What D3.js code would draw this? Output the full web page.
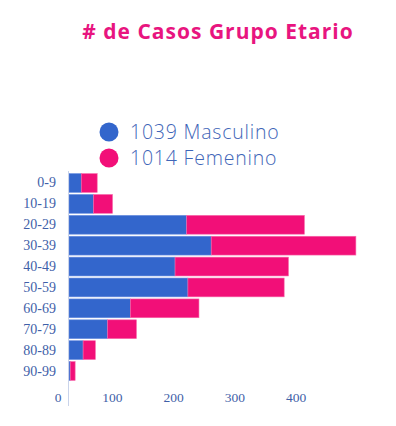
<!DOCTYPE html>
<html>
<head>
<meta charset="utf-8">
<title># de Casos Grupo Etario</title>
<script src="https://cdnjs.cloudflare.com/ajax/libs/d3/7.8.5/d3.min.js"></script>
<style>
  body { margin: 0; background: #fff; }
</style>
</head>
<body>
<div id="chart"></div>
<script>
// age groups and counts per sex
var groups = ["0-9", "10-19", "20-29", "30-39", "40-49", "50-59", "60-69", "70-79", "80-89", "90-99"];
var masculino = [20, 40, 192, 232, 173, 194, 100, 63, 23, 2];
var femenino = [26, 31, 192, 236, 185, 157, 112, 47, 20, 8];
var seriesNames = ["Masculino", "Femenino"];
var seriesColors = ["#3366cc", "#f20f78"];
var xTicks = [0, 100, 200, 300, 400];

var W = 396, H = 426;
var svg = d3.select("#chart").append("svg")
    .attr("width", W).attr("height", H);

// title
svg.append("text")
    .attr("x", 218).attr("y", 39)
    .attr("text-anchor", "middle")
    .style("font-family", "'Open Sans', sans-serif")
    .style("font-weight", 700)
    .style("font-size", "21px")
    .style("letter-spacing", "1px")
    .style("fill", "#e8157f")
    .text("# de Casos Grupo Etario");

// legend
var totals = [d3.sum(masculino), d3.sum(femenino)];
var legend = svg.selectAll(".leg").data(seriesNames).enter().append("g")
    .attr("transform", function(d, i) { return "translate(109," + (132 + i * 26) + ")"; });
legend.append("circle").attr("r", 9.5)
    .style("fill", function(d, i) { return seriesColors[i]; });
legend.append("text")
    .attr("x", 21).attr("y", 7)
    .style("font-family", "'Open Sans', sans-serif")
    .style("font-weight", 300)
    .style("font-size", "19.5px")
    .style("letter-spacing", "0.8px")
    .style("fill", "#3f66b8")
    .text(function(d, i) { return totals[i] + " " + d; });

// scales
var x = d3.scaleLinear().domain([0, 500]).range([69, 69 + 500 * 0.613]);
var y = d3.scaleBand().domain(groups).range([171.5, 382.5]).padding(0.1);

var rows = groups.map(function(g, i) {
    return { g: g, m: masculino[i], f: femenino[i] };
});

// masculino bars
svg.selectAll(".bm").data(rows).enter().append("rect")
    .attr("x", x(0))
    .attr("y", function(d) { return y(d.g); })
    .attr("width", function(d) { return x(d.m) - x(0); })
    .attr("height", y.bandwidth())
    .style("fill", seriesColors[0])
    .style("stroke", "#6a8ee0").style("stroke-width", 0.6);

// femenino bars stacked
svg.selectAll(".bf").data(rows).enter().append("rect")
    .attr("x", function(d) { return x(d.m); })
    .attr("y", function(d) { return y(d.g); })
    .attr("width", function(d) { return x(d.m + d.f) - x(d.m); })
    .attr("height", y.bandwidth())
    .style("fill", seriesColors[1])
    .style("stroke", "#f76aaa").style("stroke-width", 0.6);

// y axis line
svg.append("line")
    .attr("x1", x(0) - 0.5).attr("x2", x(0) - 0.5)
    .attr("y1", 171).attr("y2", 406)
    .style("stroke", "#c9d3ea").style("stroke-width", 1);

// y labels
svg.selectAll(".yl").data(groups).enter().append("text")
    .attr("x", 56)
    .attr("y", function(d) { return y(d) + y.bandwidth() / 2 + 4.5; })
    .attr("text-anchor", "end")
    .style("font-family", "'Liberation Serif', serif")
    .style("font-size", "14px")
    .style("fill", "#3f5fa8")
    .text(function(d) { return d; });

// x labels
svg.selectAll(".xl").data(xTicks).enter().append("text")
    .attr("x", function(d) { return x(d) + (d === 0 ? -11 : -18); })
    .attr("y", 402)
    .attr("text-anchor", "middle")
    .style("font-family", "'Liberation Serif', serif")
    .style("font-size", "13.5px")
    .style("fill", "#3f5fa8")
    .text(function(d) { return d; });
</script>
</body>
</html>
